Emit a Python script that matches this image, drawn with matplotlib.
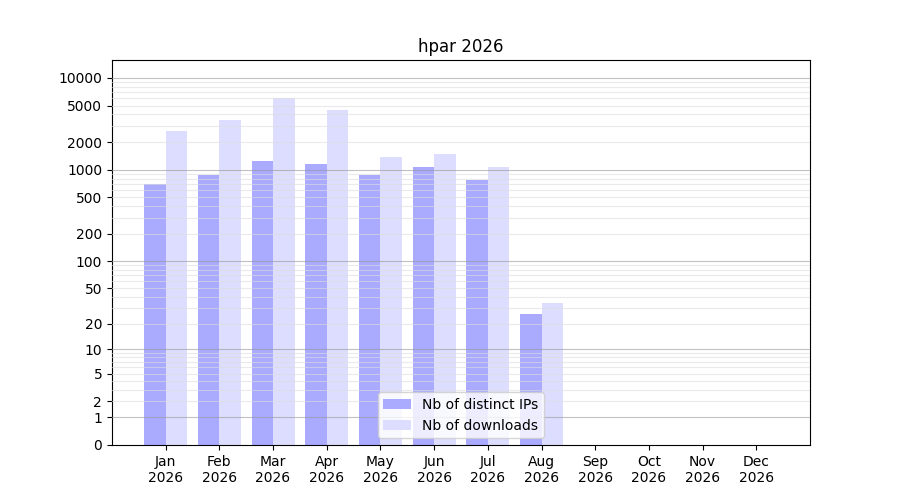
import numpy as np
import matplotlib
matplotlib.use("Agg")
import matplotlib.pyplot as plt
from matplotlib.ticker import NullLocator

months = ["Jan", "Feb", "Mar", "Apr", "May", "Jun", "Jul", "Aug", "Sep", "Oct", "Nov", "Dec"]
year = "2026"
ips = [700, 880, 1245, 1155, 880, 1070, 775, 26, 0, 0, 0, 0]
downloads = [2640, 3480, 6050, 4480, 1375, 1485, 1070, 34, 0, 0, 0, 0]
ytick_vals = [0, 1, 2, 5, 10, 20, 50, 100, 200, 500, 1000, 2000, 5000, 10000]

fig, ax = plt.subplots(figsize=(9, 5), dpi=100)
fig.subplots_adjust(left=0.1244, right=0.9, top=0.88, bottom=0.11)

x = np.arange(len(months))
w = 0.4
ax.bar(x - w / 2, ips, width=w, color="#aaaaff", label="Nb of distinct IPs")
ax.bar(x + w / 2, downloads, width=w, color="#ddddff", label="Nb of downloads")

ax.set_yscale("function", functions=(lambda v: np.log10(np.clip(v, 0, None) + 1),
                                     lambda v: 10 ** v - 1))
ax.set_ylim(0, 15700)
ax.set_xlim(-1, 12)
ax.set_yticks(ytick_vals)
ax.set_yticklabels([str(v) for v in ytick_vals])
ax.yaxis.set_minor_locator(NullLocator())
ax.tick_params(axis="y", which="minor", left=False)
ax.set_xticks(x)
ax.set_xticklabels([f"{m}\n{year}" for m in months])

major = [1, 10, 100, 1000, 10000]
minor = [m * 10 ** k for k in range(0, 4) for m in range(2, 10)]
for v in major:
    ax.axhline(v, color="#999999", lw=0.8, alpha=0.6, zorder=3)
for v in minor:
    ax.axhline(v, color="#dddddd", lw=0.8, alpha=0.6, zorder=3)

ax.set_title("hpar 2026")
ax.legend(loc="lower center")
fig.savefig("out.png")
